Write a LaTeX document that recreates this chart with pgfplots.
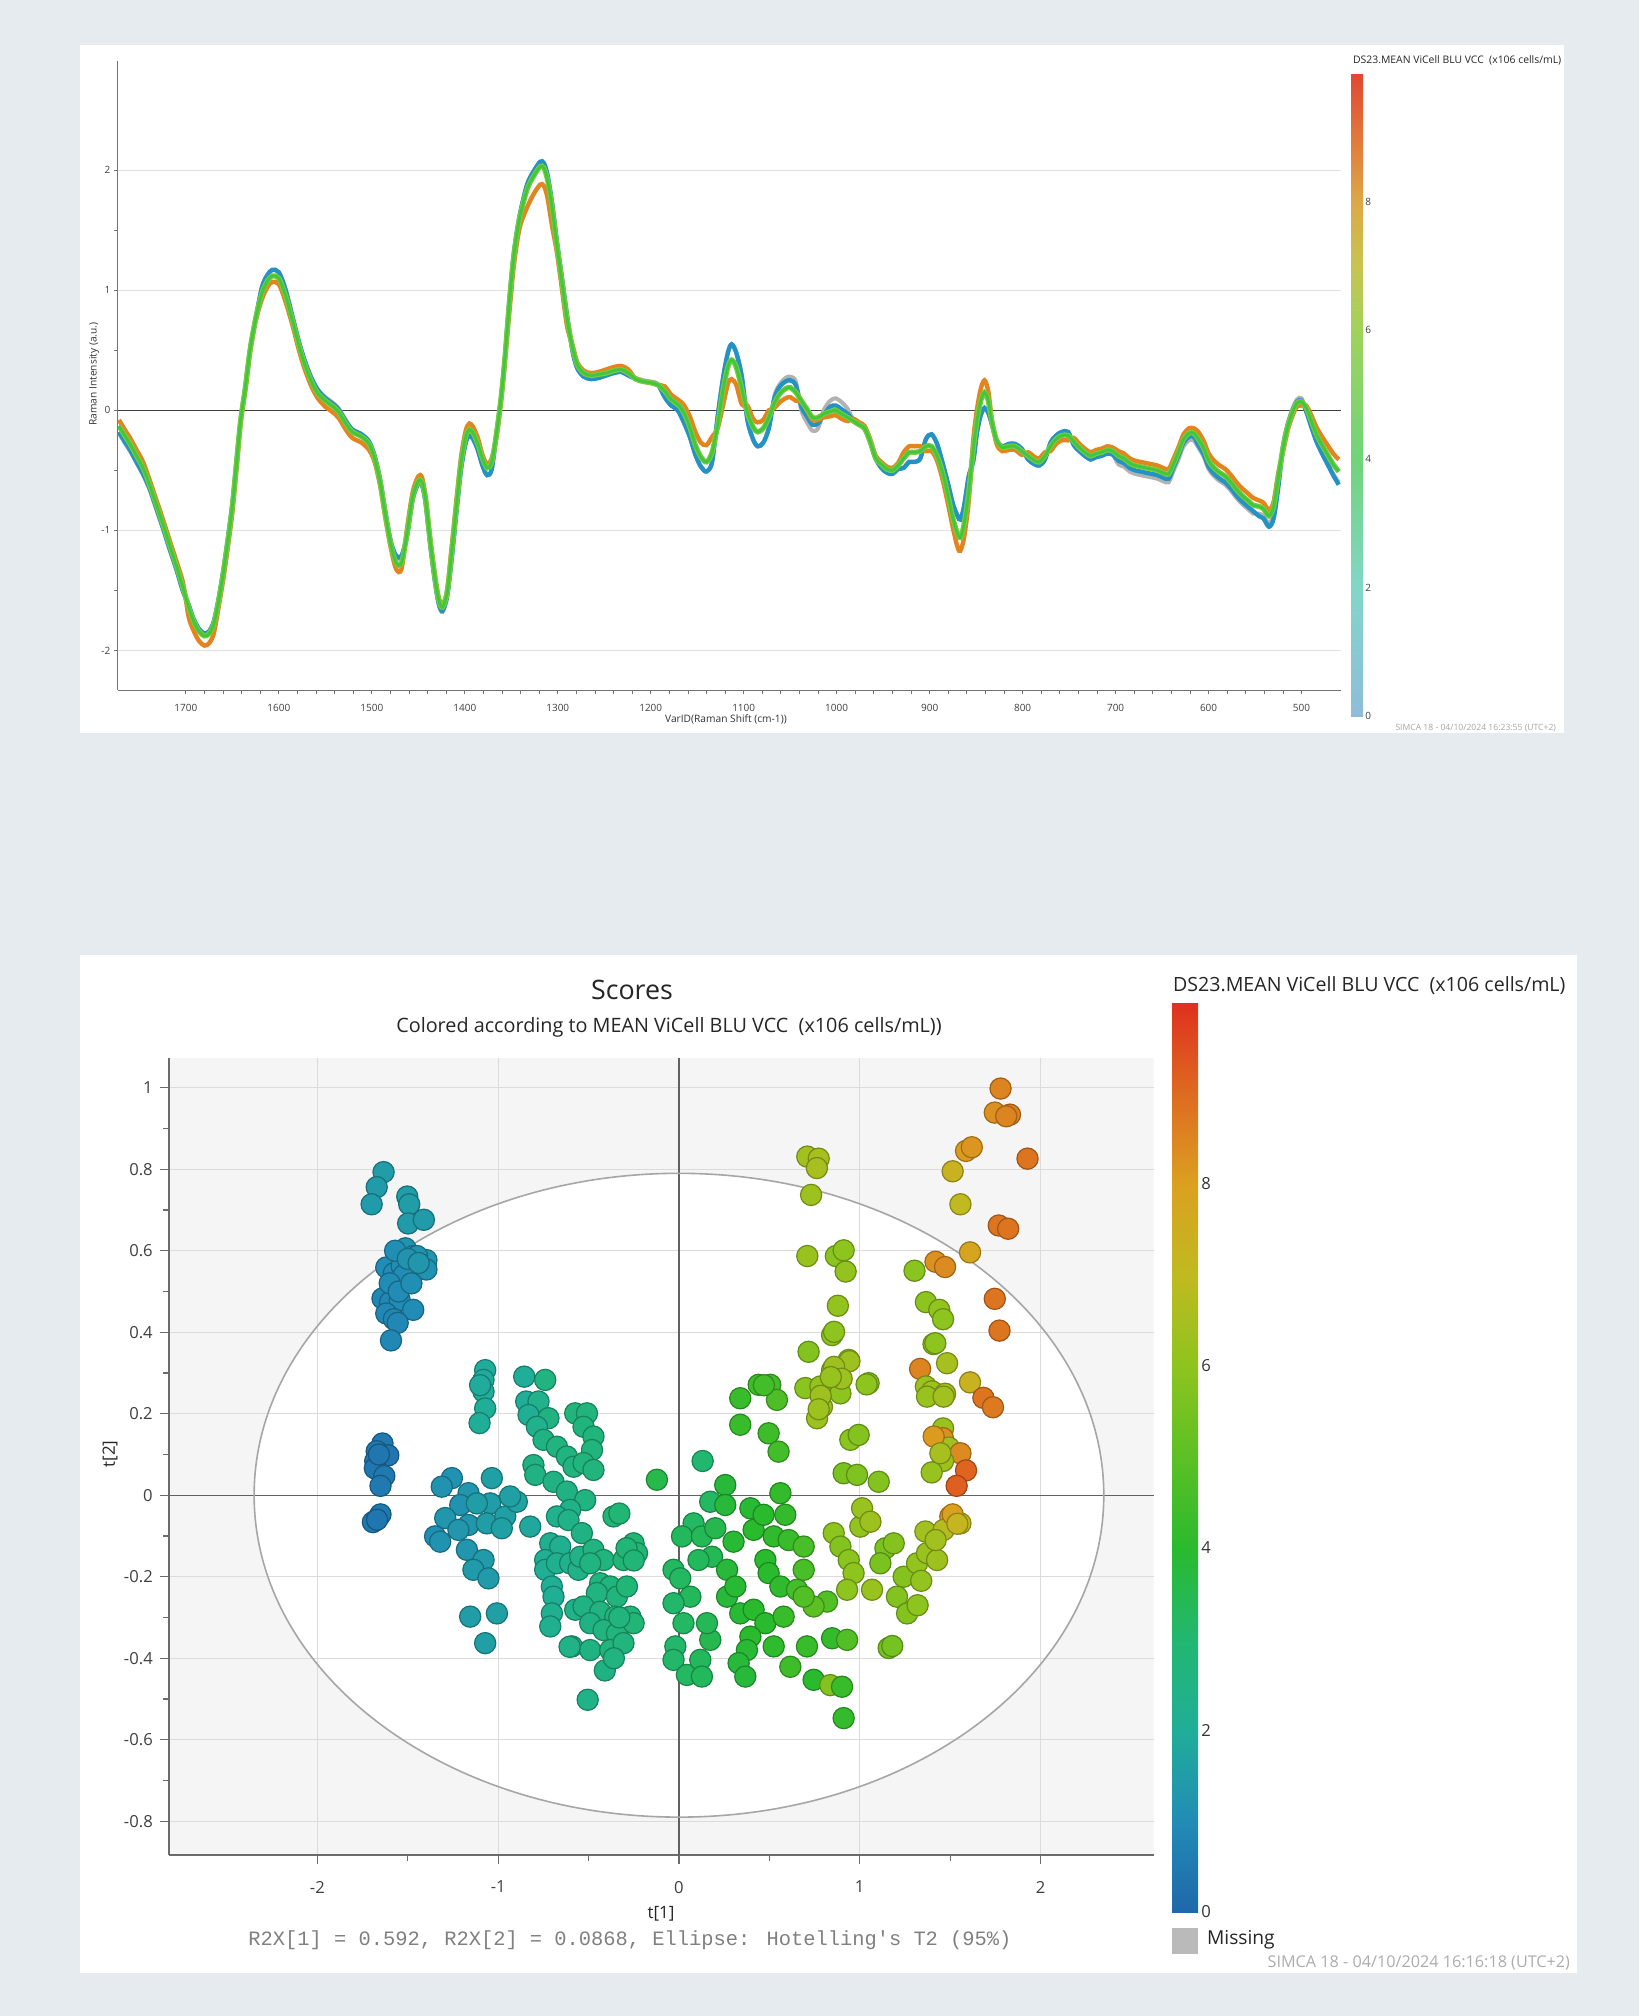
\documentclass[border=0pt]{standalone}
\usepackage{pgfplots}
\pgfplotsset{compat=1.18}
\usepackage{pgfplotstable}
\usepackage{fontspec}
\setmainfont{Open Sans}
\newfontfamily\monofont{Liberation Mono}
\definecolor{bgc}{RGB}{230,235,239}
\definecolor{specblue}{RGB}{36,146,196}
\definecolor{specorange}{RGB}{228,132,30}
\definecolor{specgreen}{RGB}{66,198,62}
\definecolor{speclime}{RGB}{120,204,60}
\definecolor{specgray}{RGB}{178,178,178}
\pgfplotsset{
  /pgf/number format/assume math mode=true,
  colormap={simca}{rgb255(0cm)=(31,104,170); rgb255(1cm)=(33,140,182); rgb255(2cm)=(32,174,152); rgb255(3cm)=(34,183,112); rgb255(4cm)=(42,186,46); rgb255(5cm)=(92,192,36); rgb255(6cm)=(142,196,30); rgb255(7cm)=(192,186,32); rgb255(8cm)=(219,160,32); rgb255(9cm)=(222,106,32); rgb255(10cm)=(222,48,30)},
  colormap={pastel}{rgb255(0cm)=(143,188,219); rgb255(2cm)=(130,214,200); rgb255(4cm)=(112,212,122); rgb255(6cm)=(160,210,92); rgb255(7cm)=(200,196,80); rgb255(8cm)=(220,168,70); rgb255(9cm)=(225,120,60); rgb255(10cm)=(225,70,50)},
}

\pgfplotstableread{
x g b o gr
1772 -0.13 -0.18 -0.08 -0.19
1765 -0.22 -0.27 -0.17 -0.28
1760 -0.28 -0.33 -0.23 -0.34
1753 -0.38 -0.43 -0.33 -0.44
1746 -0.48 -0.53 -0.43 -0.54
1739 -0.62 -0.65 -0.58 -0.66
1732 -0.78 -0.81 -0.74 -0.82
1725 -0.94 -0.97 -0.90 -0.98
1718 -1.11 -1.14 -1.07 -1.15
1710 -1.30 -1.33 -1.26 -1.33
1703 -1.48 -1.51 -1.44 -1.51
1697 -1.64 -1.62 -1.72 -1.63
1692 -1.75 -1.73 -1.83 -1.74
1686 -1.84 -1.82 -1.92 -1.83
1680 -1.88 -1.86 -1.96 -1.87
1675 -1.86 -1.84 -1.94 -1.85
1670 -1.78 -1.76 -1.86 -1.77
1665 -1.60 -1.58 -1.65 -1.59
1660 -1.37 -1.35 -1.42 -1.36
1655 -1.10 -1.08 -1.15 -1.09
1650 -0.80 -0.78 -0.85 -0.79
1645 -0.40 -0.38 -0.45 -0.39
1641 -0.08 -0.08 -0.10 -0.08
1636 0.19 0.19 0.17 0.19
1631 0.50 0.50 0.48 0.50
1625 0.76 0.76 0.74 0.76
1618 0.98 1.03 0.93 1.03
1612 1.08 1.13 1.03 1.13
1607 1.12 1.17 1.07 1.17
1600 1.10 1.15 1.05 1.15
1593 0.96 1.01 0.91 1.01
1585 0.74 0.77 0.70 0.77
1578 0.53 0.56 0.49 0.56
1572 0.38 0.41 0.34 0.41
1565 0.24 0.27 0.20 0.27
1558 0.14 0.17 0.10 0.17
1550 0.08 0.10 0.03 0.11
1543 0.04 0.06 -0.01 0.07
1536 -0.01 0.01 -0.06 0.02
1528 -0.11 -0.09 -0.16 -0.08
1521 -0.18 -0.16 -0.23 -0.16
1511 -0.22 -0.20 -0.27 -0.20
1503 -0.28 -0.26 -0.33 -0.26
1497 -0.40 -0.38 -0.43 -0.38
1491 -0.60 -0.58 -0.63 -0.58
1486 -0.84 -0.82 -0.87 -0.82
1480 -1.10 -1.08 -1.13 -1.08
1474 -1.27 -1.21 -1.32 -1.22
1468 -1.27 -1.21 -1.32 -1.22
1462 -1.02 -1.04 -0.98 -1.04
1456 -0.72 -0.74 -0.68 -0.74
1450 -0.59 -0.61 -0.55 -0.61
1446 -0.60 -0.62 -0.56 -0.62
1442 -0.75 -0.78 -0.73 -0.78
1437 -1.10 -1.13 -1.08 -1.13
1432 -1.40 -1.43 -1.38 -1.43
1428 -1.58 -1.61 -1.56 -1.62
1424 -1.64 -1.67 -1.62 -1.68
1419 -1.52 -1.55 -1.50 -1.55
1414 -1.18 -1.23 -1.13 -1.23
1409 -0.80 -0.85 -0.75 -0.85
1404 -0.44 -0.49 -0.39 -0.49
1399 -0.22 -0.27 -0.17 -0.27
1395 -0.16 -0.21 -0.11 -0.21
1391 -0.19 -0.24 -0.14 -0.24
1386 -0.28 -0.33 -0.23 -0.33
1381 -0.40 -0.46 -0.37 -0.46
1376 -0.48 -0.54 -0.45 -0.54
1371 -0.43 -0.49 -0.40 -0.49
1366 -0.20 -0.20 -0.23 -0.20
1361 0.10 0.10 0.07 0.10
1357 0.42 0.42 0.39 0.42
1352 0.90 0.92 0.82 0.92
1347 1.30 1.32 1.22 1.32
1341 1.60 1.62 1.52 1.62
1333 1.84 1.88 1.69 1.88
1326 1.95 1.99 1.80 1.99
1319 2.03 2.07 1.88 2.07
1315 2.02 2.06 1.87 2.06
1311 1.92 1.96 1.77 1.96
1306 1.68 1.72 1.53 1.72
1301 1.38 1.41 1.32 1.41
1296 1.10 1.13 1.04 1.13
1290 0.76 0.79 0.70 0.79
1284 0.52 0.49 0.54 0.49
1279 0.38 0.35 0.40 0.35
1272 0.31 0.28 0.33 0.28
1264 0.29 0.26 0.31 0.26
1256 0.30 0.27 0.32 0.27
1248 0.31 0.29 0.34 0.29
1240 0.33 0.31 0.36 0.31
1232 0.34 0.32 0.37 0.32
1224 0.31 0.29 0.34 0.29
1216 0.26 0.26 0.26 0.27
1208 0.24 0.24 0.24 0.25
1200 0.23 0.23 0.23 0.24
1192 0.21 0.21 0.21 0.22
1185 0.16 0.11 0.20 0.11
1178 0.09 0.04 0.13 0.04
1171 0.05 0.00 0.09 0.00
1165 -0.01 -0.09 0.05 -0.09
1158 -0.14 -0.22 -0.05 -0.22
1152 -0.29 -0.37 -0.18 -0.37
1146 -0.39 -0.47 -0.27 -0.47
1140 -0.43 -0.51 -0.29 -0.51
1134 -0.35 -0.43 -0.22 -0.43
1128 -0.12 -0.05 -0.15 -0.05
1122 0.18 0.28 0.05 0.28
1117 0.36 0.48 0.22 0.48
1113 0.42 0.55 0.26 0.55
1108 0.36 0.48 0.21 0.48
1102 0.18 0.28 0.05 0.28
1096 -0.02 -0.08 0.04 -0.08
1090 -0.14 -0.24 -0.07 -0.24
1085 -0.18 -0.30 -0.10 -0.30
1079 -0.15 -0.27 -0.08 -0.27
1073 -0.06 -0.15 0.00 -0.15
1067 0.06 0.10 0.02 0.12
1061 0.14 0.20 0.07 0.22
1055 0.18 0.24 0.10 0.27
1050 0.19 0.25 0.11 0.28
1044 0.15 0.21 0.08 0.24
1038 0.08 0.03 0.07 0.00
1032 0.01 -0.05 0.00 -0.10
1026 -0.06 -0.12 -0.08 -0.17
1020 -0.06 -0.11 -0.08 -0.15
1014 -0.03 -0.04 -0.06 0.00
1007 -0.01 0.03 -0.05 0.08
1001 0.00 0.04 -0.04 0.10
995 -0.03 0.01 -0.07 0.07
988 -0.06 -0.03 -0.09 0.01
982 -0.09 -0.09 -0.07 -0.08
976 -0.12 -0.12 -0.10 -0.12
970 -0.15 -0.15 -0.13 -0.16
964 -0.26 -0.26 -0.24 -0.27
958 -0.40 -0.40 -0.38 -0.41
952 -0.45 -0.48 -0.43 -0.48
946 -0.49 -0.52 -0.47 -0.52
940 -0.50 -0.53 -0.48 -0.53
934 -0.46 -0.49 -0.44 -0.49
928 -0.40 -0.48 -0.35 -0.48
922 -0.35 -0.43 -0.30 -0.43
916 -0.35 -0.43 -0.30 -0.43
910 -0.34 -0.40 -0.30 -0.40
904 -0.30 -0.24 -0.34 -0.24
898 -0.30 -0.20 -0.34 -0.20
892 -0.38 -0.28 -0.42 -0.28
886 -0.52 -0.44 -0.58 -0.44
880 -0.72 -0.62 -0.79 -0.62
875 -0.90 -0.78 -0.98 -0.78
870 -1.03 -0.88 -1.14 -0.88
867 -1.06 -0.91 -1.17 -0.91
863 -0.95 -0.80 -1.06 -0.80
858 -0.68 -0.55 -0.76 -0.55
853 -0.32 -0.42 -0.24 -0.42
849 -0.08 -0.18 0.01 -0.18
845 0.08 -0.04 0.18 -0.04
841 0.15 0.02 0.25 0.02
837 0.08 -0.02 0.16 -0.02
833 -0.10 -0.12 -0.08 -0.12
828 -0.25 -0.25 -0.28 -0.25
822 -0.31 -0.30 -0.34 -0.30
815 -0.30 -0.28 -0.33 -0.28
808 -0.30 -0.28 -0.33 -0.28
801 -0.34 -0.32 -0.37 -0.32
794 -0.38 -0.41 -0.35 -0.41
787 -0.42 -0.45 -0.39 -0.45
782 -0.43 -0.46 -0.40 -0.46
776 -0.38 -0.41 -0.35 -0.41
770 -0.30 -0.27 -0.34 -0.27
764 -0.24 -0.21 -0.28 -0.21
758 -0.21 -0.18 -0.25 -0.18
751 -0.21 -0.18 -0.25 -0.18
745 -0.26 -0.29 -0.23 -0.29
739 -0.31 -0.34 -0.28 -0.34
733 -0.35 -0.38 -0.32 -0.38
727 -0.38 -0.41 -0.35 -0.41
721 -0.36 -0.39 -0.33 -0.39
715 -0.35 -0.38 -0.32 -0.38
709 -0.33 -0.36 -0.30 -0.36
703 -0.34 -0.37 -0.31 -0.37
697 -0.38 -0.42 -0.34 -0.45
691 -0.40 -0.44 -0.36 -0.47
685 -0.44 -0.48 -0.40 -0.51
679 -0.46 -0.50 -0.42 -0.53
673 -0.47 -0.51 -0.43 -0.54
667 -0.48 -0.52 -0.44 -0.55
661 -0.49 -0.53 -0.45 -0.56
655 -0.50 -0.54 -0.46 -0.57
649 -0.52 -0.56 -0.48 -0.59
643 -0.53 -0.57 -0.49 -0.60
638 -0.45 -0.48 -0.41 -0.51
632 -0.34 -0.37 -0.30 -0.40
627 -0.24 -0.27 -0.20 -0.30
621 -0.19 -0.22 -0.15 -0.25
616 -0.19 -0.22 -0.15 -0.25
611 -0.24 -0.29 -0.18 -0.31
605 -0.32 -0.37 -0.26 -0.39
600 -0.42 -0.47 -0.36 -0.49
594 -0.48 -0.53 -0.42 -0.55
588 -0.52 -0.57 -0.46 -0.59
582 -0.55 -0.60 -0.49 -0.62
576 -0.60 -0.65 -0.54 -0.67
570 -0.66 -0.71 -0.60 -0.73
564 -0.71 -0.76 -0.65 -0.78
558 -0.75 -0.80 -0.69 -0.82
552 -0.79 -0.84 -0.73 -0.86
546 -0.80 -0.88 -0.75 -0.86
541 -0.82 -0.90 -0.77 -0.88
535 -0.88 -0.97 -0.83 -0.94
530 -0.80 -0.90 -0.76 -0.86
525 -0.56 -0.64 -0.52 -0.60
520 -0.32 -0.31 -0.35 -0.29
515 -0.14 -0.13 -0.17 -0.11
510 -0.02 -0.01 -0.05 0.01
505 0.06 0.07 0.03 0.09
500 0.07 0.08 0.04 0.10
495 0.02 -0.01 0.04 0.00
489 -0.10 -0.15 -0.05 -0.14
484 -0.20 -0.26 -0.14 -0.25
478 -0.29 -0.36 -0.22 -0.35
472 -0.37 -0.45 -0.29 -0.44
466 -0.45 -0.54 -0.36 -0.53
460 -0.51 -0.62 -0.41 -0.60
}\spectra

\pgfplotstableread{
t1 t2 c
-1.634 0.793 1.5
-1.672 0.756 1.4
-1.700 0.714 1.4
-1.503 0.733 1.5
-1.492 0.714 1.5
-1.498 0.667 1.4
-1.411 0.676 1.4
-1.513 0.606 1.2
-1.470 0.587 1.2
-1.397 0.577 1.3
-1.397 0.554 1.2
-1.619 0.559 1.0
-1.577 0.545 1.0
-1.534 0.563 1.1
-1.492 0.559 1.1
-1.503 0.531 1.0
-1.523 0.540 1.0
-1.449 0.587 1.2
-1.640 0.483 0.9
-1.598 0.474 0.9
-1.545 0.479 1.0
-1.470 0.455 1.0
-1.619 0.446 0.9
-1.577 0.432 0.9
-1.556 0.423 0.9
-1.593 0.380 0.9
-1.570 0.600 1.1
-1.500 0.580 1.2
-1.440 0.570 1.3
-1.600 0.520 1.0
-1.550 0.500 1.0
-1.480 0.520 1.1
-1.640 0.127 0.5
-1.672 0.108 0.5
-1.608 0.098 0.4
-1.680 0.084 0.5
-1.682 0.066 0.4
-1.630 0.047 0.5
-1.651 0.023 0.5
-1.660 0.100 0.4
-1.651 -0.047 0.5
-1.693 -0.066 0.5
-1.670 -0.060 0.4
-1.256 0.042 1.2
-1.312 0.021 1.2
-1.164 0.005 1.3
-1.210 -0.024 1.2
-1.293 -0.056 1.3
-1.349 -0.101 1.1
-1.321 -0.114 1.2
-1.164 -0.073 1.3
-1.220 -0.085 1.3
-1.173 -0.134 1.3
-1.081 -0.159 1.4
-1.137 -0.183 1.4
-1.054 -0.204 1.4
-1.035 0.042 1.6
-1.044 -0.020 1.5
-1.118 -0.020 1.5
-1.063 -0.069 1.5
-0.961 -0.052 1.6
-0.980 -0.081 1.6
-0.897 -0.016 1.7
-0.934 -0.003 1.6
-0.823 -0.077 1.8
-1.155 -0.298 1.5
-1.007 -0.290 1.6
-1.072 -0.363 1.6
-1.072 0.307 1.9
-1.081 0.283 1.9
-1.081 0.254 2.0
-1.072 0.213 2.0
-1.103 0.177 2.0
-1.100 0.270 1.9
-0.856 0.291 2.0
-0.740 0.283 2.6
-0.845 0.230 2.0
-0.777 0.230 2.3
-0.832 0.197 2.1
-0.722 0.189 2.5
-0.786 0.168 2.3
-0.574 0.201 2.7
-0.509 0.201 2.7
-0.528 0.168 2.7
-0.473 0.144 2.7
-0.481 0.111 2.7
-0.749 0.136 2.5
-0.675 0.119 2.6
-0.620 0.095 2.6
-0.583 0.070 2.6
-0.528 0.079 2.7
-0.473 0.062 2.7
-0.805 0.074 2.5
-0.795 0.050 2.5
-0.694 0.033 2.5
-0.620 0.009 2.5
-0.519 -0.012 2.6
-0.602 -0.036 2.4
-0.675 -0.052 2.3
-0.611 -0.061 2.4
-0.537 -0.093 2.5
-0.712 -0.118 2.2
-0.657 -0.126 2.2
-0.740 -0.159 2.1
-0.740 -0.183 2.1
-0.675 -0.167 2.2
-0.602 -0.167 2.3
-0.556 -0.183 2.4
-0.546 -0.151 2.4
-0.473 -0.134 2.6
-0.417 -0.159 2.7
-0.491 -0.167 2.6
-0.307 -0.159 2.8
-0.251 -0.118 2.9
-0.232 -0.142 2.9
-0.362 -0.052 2.9
-0.330 -0.045 2.9
-0.703 -0.224 2.1
-0.694 -0.249 2.1
-0.703 -0.290 2.2
-0.712 -0.322 2.2
-0.574 -0.281 2.4
-0.436 -0.216 2.6
-0.380 -0.224 2.7
-0.454 -0.240 2.6
-0.343 -0.249 2.7
-0.288 -0.224 2.8
-0.528 -0.273 2.5
-0.436 -0.286 2.6
-0.352 -0.298 2.7
-0.269 -0.298 2.8
-0.491 -0.314 2.5
-0.417 -0.331 2.6
-0.343 -0.339 2.7
-0.251 -0.314 2.8
-0.592 -0.371 2.4
-0.491 -0.380 2.5
-0.380 -0.380 2.7
-0.307 -0.363 2.7
-0.505 -0.502 2.4
-0.605 -0.372 2.4
-0.410 -0.430 2.5
-0.360 -0.400 2.6
-0.290 -0.130 2.8
-0.250 -0.160 2.8
-0.330 -0.300 2.7
-0.122 0.038 3.6
0.131 0.084 3.0
0.256 0.025 3.8
0.173 -0.016 3.2
0.256 -0.024 3.8
0.081 -0.069 3.2
0.017 -0.101 3.3
0.127 -0.101 3.4
0.201 -0.081 3.5
0.183 -0.151 3.4
0.108 -0.159 3.3
-0.030 -0.183 3.2
0.007 -0.204 3.2
0.063 -0.249 3.3
-0.030 -0.265 3.1
0.025 -0.314 3.2
-0.020 -0.371 3.1
-0.030 -0.404 3.1
0.044 -0.441 3.2
0.118 -0.404 3.3
0.127 -0.445 3.3
0.173 -0.355 3.5
0.155 -0.314 3.4
0.266 -0.183 3.8
0.266 -0.249 3.8
0.312 -0.224 3.9
0.302 -0.114 3.9
0.395 -0.032 3.9
0.413 -0.085 4.0
0.468 -0.048 4.0
0.561 0.005 4.2
0.588 -0.048 4.2
0.524 -0.101 4.1
0.607 -0.110 4.3
0.690 -0.126 4.6
0.478 -0.159 4.0
0.496 -0.191 4.0
0.561 -0.224 4.1
0.653 -0.232 4.5
0.690 -0.183 4.6
0.339 -0.290 3.9
0.413 -0.281 4.0
0.478 -0.314 4.0
0.579 -0.298 4.3
0.395 -0.347 4.0
0.376 -0.380 3.9
0.330 -0.412 3.8
0.367 -0.445 3.8
0.524 -0.371 4.1
0.616 -0.421 4.4
0.708 -0.371 4.3
0.745 -0.453 4.0
0.837 -0.466 5.8
0.902 -0.470 4.3
0.911 -0.547 4.2
0.847 -0.351 4.2
0.930 -0.355 4.8
0.819 -0.261 4.8
0.745 -0.273 5.0
0.690 -0.249 4.8
0.339 0.238 4.3
0.441 0.271 4.4
0.505 0.271 4.5
0.542 0.234 4.7
0.339 0.173 4.3
0.496 0.152 4.4
0.551 0.107 4.5
0.470 0.270 4.5
0.717 0.352 5.8
0.847 0.393 6.0
0.699 0.263 5.9
0.782 0.267 6.1
0.847 0.307 6.0
0.939 0.332 6.2
0.893 0.250 6.0
0.791 0.217 6.2
0.764 0.189 6.3
1.049 0.275 5.8
0.948 0.136 5.9
0.994 0.148 5.8
0.911 0.054 5.6
0.985 0.050 5.7
1.105 0.033 5.8
0.856 -0.093 6.0
0.893 -0.126 5.8
0.939 -0.159 5.9
1.003 -0.077 6.1
1.013 -0.032 6.2
1.059 -0.065 6.3
0.966 -0.191 6.0
1.068 -0.232 6.2
0.930 -0.232 6.0
1.142 -0.130 5.6
1.114 -0.167 5.6
1.188 -0.118 5.8
1.243 -0.200 5.8
1.206 -0.249 5.8
1.262 -0.290 5.8
1.317 -0.167 6.1
1.372 -0.142 6.2
1.428 -0.159 6.3
1.363 -0.089 6.4
1.160 -0.375 5.5
1.180 -0.370 5.5
1.501 -0.052 8.2
1.557 -0.069 7.0
1.464 -0.085 6.8
1.320 -0.270 6.0
1.340 -0.210 6.1
1.420 -0.110 6.4
0.710 0.831 6.4
0.773 0.826 6.5
0.763 0.803 6.5
0.731 0.737 6.3
0.710 0.587 6.2
0.868 0.587 5.9
0.911 0.601 6.0
0.922 0.549 6.1
0.879 0.465 6.1
0.858 0.401 6.0
0.943 0.329 6.3
0.858 0.315 6.3
0.900 0.286 6.3
0.840 0.290 6.2
1.038 0.272 6.0
0.784 0.244 6.3
0.773 0.211 6.3
1.779 0.998 8.5
1.747 0.939 8.3
1.831 0.934 8.6
1.810 0.930 8.5
1.928 0.826 8.8
1.588 0.845 8.1
1.620 0.854 8.2
1.514 0.795 7.3
1.557 0.714 7.0
1.769 0.662 8.8
1.821 0.654 8.8
1.610 0.596 7.8
1.419 0.573 8.3
1.472 0.560 8.4
1.303 0.551 5.9
1.747 0.482 8.8
1.773 0.404 8.8
1.366 0.474 6.0
1.440 0.455 6.1
1.461 0.432 6.0
1.408 0.371 6.2
1.483 0.324 6.5
1.334 0.310 8.5
1.610 0.277 7.3
1.684 0.239 8.8
1.737 0.216 8.7
1.366 0.267 6.3
1.400 0.255 6.3
1.472 0.249 6.4
1.461 0.164 6.2
1.460 0.140 8.3
1.493 0.117 6.4
1.557 0.103 8.4
1.588 0.061 9.1
1.536 0.023 9.2
1.461 0.084 6.3
1.398 0.056 6.2
1.514 -0.047 8.0
1.540 -0.070 7.2
1.418 0.373 6.0
1.372 0.242 6.2
1.464 0.242 6.4
1.409 0.144 8.1
1.446 0.103 6.5
}\scores

\begin{document}
\begin{tikzpicture}
% background and panels
\fill[bgc] (0pt,0pt) rectangle (819.5pt,-1008pt);
\fill[white] (40pt,-22.5pt) rectangle (782pt,-366.5pt);
\fill[white] (40pt,-477.5pt) rectangle (788.5pt,-986.5pt);

% ---------------- top: spectra ----------------
\begin{axis}[
  at={(59pt,-345pt)}, anchor=south west,
  width=611.3pt, height=314.5pt, scale only axis,
  x dir=reverse, xmin=458, xmax=1773, ymin=-2.33, ymax=2.91,
  axis x line*=bottom, axis y line*=left,
  axis line style={draw=black!55, line width=0.5pt},
  xtick={500,600,700,800,900,1000,1100,1200,1300,1400,1500,1600,1700},
  minor x tick num=4,
  ytick={-2,-1,0,1,2}, minor y tick num=1,
  tick align=outside, major tick length=1.8pt, minor tick length=1.8pt,
  tick style={draw=black!55, line width=0.4pt},
  ymajorgrids, grid style={draw=black!12, line width=0.5pt},
  extra y ticks={0}, extra y tick labels={},
  extra y tick style={grid=major, major grid style={draw=black!75, line width=0.5pt}, major tick length=0pt},
  ticklabel style={font=\fontsize{5}{6}\selectfont, text=black!75},
  xticklabel style={yshift=-1.8pt},
  yticklabel style={xshift=1.5pt},
  /pgf/number format/set thousands separator={},
]
\addplot[specgray, line width=2pt, smooth] table[x=x,y=gr]{\spectra};
\addplot[specblue, line width=2.2pt, smooth] table[x=x,y=b]{\spectra};
\addplot[specorange, line width=2.2pt, smooth] table[x=x,y=o]{\spectra};
\addplot[speclime, line width=2.6pt, smooth] table[x=x,y=g]{\spectra};
\addplot[specgreen, line width=1.4pt, smooth] table[x=x,y=g]{\spectra};
\end{axis}
% top colorbar
\begin{axis}[
  at={(675.5pt,-36.5pt)}, anchor=north west,
  width=6pt, height=321.5pt, scale only axis, hide axis,
  xmin=0, xmax=1, ymin=0, ymax=1,
  colorbar, colorbar shift/.style={},
  colormap name=pastel, point meta min=0, point meta max=10,
  colorbar style={
    at={(parent axis.north west)}, anchor=north west,
    width=6pt, height=321.5pt, scale only axis,
    ytick={0,2,4,6,8}, axis line style={draw=none}, major tick length=0pt,
    yticklabel style={font=\fontsize{5}{6}\selectfont, text=black!75, inner sep=1pt},
  },
]
\end{axis}
\node[font=\fontsize{5.1}{6}\selectfont, text=black!80] at (363pt,-359.5pt) {VarID(Raman Shift (cm-1))};
\node[font=\fontsize{5.1}{6}\selectfont, text=black!80, rotate=90] at (47pt,-187pt) {Raman Intensity (a.u.)};
\node[font=\fontsize{5.2}{6}\selectfont, text=black!85, anchor=west] at (673pt,-30pt) {DS23.MEAN ViCell BLU VCC\ \ (x106 cells/mL)};
\node[font=\fontsize{4.3}{5}\selectfont, text=black!35, anchor=east] at (781.5pt,-364pt) {SIMCA 18 - 04/10/2024 16:23:55 (UTC+2)};

% ---------------- bottom: scores ----------------
% gray plot area and white ellipse interior
\begin{axis}[
  at={(84.4pt,-927.5pt)}, anchor=south west,
  width=492.35pt, height=398.5pt, scale only axis, hide axis,
  xmin=-2.822, xmax=2.625, ymin=-0.883, ymax=1.073,
]
\fill[black!4] (rel axis cs:0,0) rectangle (rel axis cs:1,1);
\fill[white] (axis cs:0,0) ellipse [x radius=2.35, y radius=0.79];
\end{axis}
\begin{axis}[
  at={(84.4pt,-927.5pt)}, anchor=south west,
  width=492.35pt, height=398.5pt, scale only axis,
  xmin=-2.822, xmax=2.625, ymin=-0.883, ymax=1.073,
  axis x line*=bottom, axis y line*=left,
  axis line style={draw=black!58, line width=0.9pt},
  xtick={-2,-1,0,1,2}, minor x tick num=1,
  ytick={-0.8,-0.6,-0.4,-0.2,0,0.2,0.4,0.6,0.8,1}, minor y tick num=1,
  tick align=outside, major tick length=4.5pt, minor tick length=2.8pt,
  tick style={draw=black!58, line width=0.6pt},
  grid=major, grid style={draw=black!14, line width=0.6pt},
  extra x ticks={0}, extra y ticks={0}, extra x tick labels={}, extra y tick labels={},
  extra tick style={grid=major, major grid style={draw=black!62, line width=0.7pt}, major tick length=0pt},
  ticklabel style={font=\fontsize{8.3}{10}\selectfont, text=black!75},
  xticklabel style={yshift=-5pt},
  colormap name=simca, point meta min=0, point meta max=10,
]
\draw[black!35, line width=0.8pt] (axis cs:0,0) ellipse [x radius=2.35, y radius=0.79];
\addplot[scatter, only marks, mark=*, mark size=5.3pt, point meta=explicit,
  scatter/use mapped color={draw=mapped color!72!black, fill=mapped color},
  mark options={line width=0.6pt}]
  table[x=t1, y=t2, meta=c]{\scores};
\end{axis}
% bottom colorbar
\begin{axis}[
  at={(586pt,-501pt)}, anchor=north west,
  width=13pt, height=455pt, scale only axis, hide axis,
  xmin=0, xmax=1, ymin=0, ymax=1,
  colorbar, colorbar shift/.style={},
  colormap name=simca, point meta min=0, point meta max=10,
  colorbar style={
    at={(parent axis.north west)}, anchor=north west,
    width=13pt, height=455pt, scale only axis,
    ytick={0,2,4,6,8}, axis line style={draw=none}, major tick length=0pt,
    yticklabel style={font=\fontsize{8.3}{10}\selectfont, text=black!80, inner sep=1.5pt},
  },
]
\end{axis}
\node[font=\fontsize{13.4}{15}\selectfont, text=black!85] at (316pt,-495pt) {Scores};
\node[font=\fontsize{9.9}{11}\selectfont, text=black!85] at (334.5pt,-513.5pt) {Colored according to MEAN ViCell BLU VCC\ \ (x106 cells/mL))};
\node[font=\fontsize{8.5}{10}\selectfont, text=black!85] at (330.5pt,-957pt) {t[1]};
\node[font=\fontsize{8.5}{10}\selectfont, text=black!85, rotate=90] at (55pt,-727pt) {t[2]};
\node[font=\monofont\fontsize{10.2}{12}\selectfont, text=black!50] at (315pt,-970pt) {R2X[1] = 0.592, R2X[2] = 0.0868, Ellipse: Hotelling's T2 (95\%)};
\node[font=\fontsize{9.8}{11}\selectfont, text=black!85, anchor=west] at (583pt,-493pt) {DS23.MEAN ViCell BLU VCC\ \ (x106 cells/mL)};
\fill[black!27] (586pt,-964pt) rectangle (599pt,-977pt);
\node[font=\fontsize{9.6}{11}\selectfont, text=black!85, anchor=west] at (600pt,-970pt) {Missing};
\node[font=\fontsize{8.1}{9}\selectfont, text=black!32, anchor=east] at (788.5pt,-981.5pt) {SIMCA 18 - 04/10/2024 16:16:18 (UTC+2)};

\pgfresetboundingbox
\useasboundingbox (0pt,0pt) rectangle (819.5pt,-1008pt);
\end{tikzpicture}
\end{document}
